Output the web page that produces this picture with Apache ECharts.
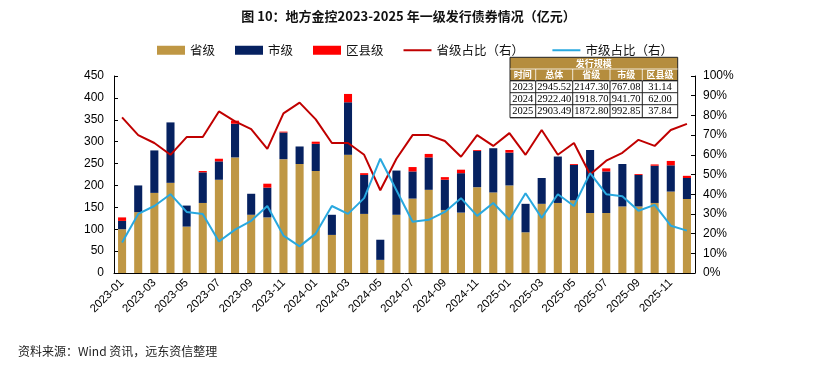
<!DOCTYPE html>
<html><head><meta charset="utf-8">
<script src="https://cdn.jsdelivr.net/npm/echarts@6/dist/echarts.min.js"></script>
<style>html,body{margin:0;padding:0;background:#fff;}#c{width:817px;height:373px;}</style>
</head><body><div id="c"></div>
<script>
var categories = ['2023-01','2023-02','2023-03','2023-04','2023-05','2023-06','2023-07','2023-08','2023-09','2023-10','2023-11','2023-12',
'2024-01','2024-02','2024-03','2024-04','2024-05','2024-06','2024-07','2024-08','2024-09','2024-10','2024-11','2024-12',
'2025-01','2025-02','2025-03','2025-04','2025-05','2025-06','2025-07','2025-08','2025-09','2025-10','2025-11','2025-12'];
var provincial = [100,139,183,206,106,160,213,264,133,127,260,249, 233,87,270,135,30,133,170,190,144,138,196,184, 200,93,158,160,166,137,137,152,152,160,186,169];
var city = [19,61,97,138,48,70,42,77,48,68,61,40, 62,46,120,89,46,101,62,74,69,90,83,101, 75,65,59,106,81,144,95,97,72,85,60,48];
var county = [8,0,0,0,0,3,6,7,0,9,2,0, 5,0,19,4,0,0,10,8,6,8,2,0, 6,0,0,0,2,0,7,0,2,3,10,5];
var provShare = [79,70,66,60,69,69,82,77,73,63,81,86.5, 78,66,66,60,42,58,70,70,67,59,70,64.5, 71,60,72.6,60,66,50,57,61,67.6,64.5,72.6,75.7];
var cityShare = [15.5,30,34,40,31,30,16,22,26.5,34,19,13.5, 20,34,30,38,58,42,26,27,31,38,29,35.5, 27,40.5,28,40,34,50.7,40,39,31.6,34.6,24,21.5];
var leftTicks = [0,450,50];
var rightTicks = [0,100,10];
var tableTitle = '发行规模';
var tableHeader = ['时间','总体','省级','市级','区县级'];
var tableRows = [
  ['2023','2945.52','2147.30','767.08','31.14'],
  ['2024','2922.40','1918.70','941.70','62.00'],
  ['2025','2903.49','1872.80','992.85','37.84']
];

var cTan = '#BF9744', cNavy = '#062160', cRed = '#FF0000', cLineRed = '#C00000', cLineBlue = '#29A8DF', cHead = '#B58D3E';

// table graphics
var colX = [510, 535.7, 572.7, 610, 642.3, 677.7];
var rowY = [57.3, 69, 80.7, 92.7, 104.7, 117.7];
var g = [];
var serif = '"Liberation Serif","DejaVu Serif","Noto Sans CJK SC",serif';
g.push({type:'rect', shape:{x:colX[0], y:rowY[0], width:colX[5]-colX[0], height:rowY[2]-rowY[0]}, style:{fill:cHead, stroke:'#222', lineWidth:1}, z:10});
g.push({type:'rect', shape:{x:colX[0], y:rowY[2], width:colX[5]-colX[0], height:rowY[5]-rowY[2]}, style:{fill:'#fff', stroke:'#222', lineWidth:1}, z:10});
g.push({type:'text', x:(colX[0]+colX[5])/2, y:(rowY[0]+rowY[1])/2, style:{text:tableTitle, fill:'#fff', font:'bold 9px "Noto Sans CJK SC"', align:'center', verticalAlign:'middle'}, z:12});
g.push({type:'line', shape:{x1:colX[0], y1:rowY[1], x2:colX[5], y2:rowY[1]}, style:{stroke:'#fff', lineWidth:0.8}, z:11});
for (var r = 2; r < 5; r++) {
  g.push({type:'line', shape:{x1:colX[0], y1:rowY[r+1], x2:colX[5], y2:rowY[r+1]}, style:{stroke:'#222', lineWidth:1}, z:11});
}
g.push({type:'line', shape:{x1:colX[0], y1:rowY[2], x2:colX[5], y2:rowY[2]}, style:{stroke:'#222', lineWidth:1}, z:11});
for (var cI = 1; cI < 5; cI++) {
  g.push({type:'line', shape:{x1:colX[cI], y1:rowY[1], x2:colX[cI], y2:rowY[2]}, style:{stroke:'#fff', lineWidth:0.8}, z:11});
  g.push({type:'line', shape:{x1:colX[cI], y1:rowY[2], x2:colX[cI], y2:rowY[5]}, style:{stroke:'#222', lineWidth:1}, z:11});
}
tableHeader.forEach(function(h, i){
  g.push({type:'text', x:(colX[i]+colX[i+1])/2, y:(rowY[1]+rowY[2])/2, style:{text:h, fill:'#fff', font:'bold 9px "Noto Sans CJK SC"', align:'center', verticalAlign:'middle'}, z:12});
});
tableRows.forEach(function(row, ri){
  row.forEach(function(v, i){
    g.push({type:'text', x:(colX[i]+colX[i+1])/2, y:(rowY[ri+2]+rowY[ri+3])/2 + 0.5, style:{text:v, fill:'#000', font:'10.5px ' + serif, align:'center', verticalAlign:'middle'}, z:12});
  });
});
g.push({type:'text', left:18, top:345, style:{text:'资料来源：Wind 资讯，远东资信整理', fill:'#222', font:'12px "Noto Sans CJK SC"'}});

var chart = echarts.init(document.getElementById('c'), null, {renderer:'canvas'});
var axisLabelFont = {color:'#000', fontSize:12, fontFamily:'"Liberation Sans", Arial, sans-serif'};
var lineIcon = 'path://M0,0H28V2H0Z';
chart.setOption({
  animation:false,
  backgroundColor:'#fff',
  title:{text:'图 10：地方金控2023-2025 年一级发行债券情况（亿元）', left:'center', top:5,
    textStyle:{fontSize:13, fontWeight:'bold', color:'#111', fontFamily:'"Noto Sans CJK SC"'}},
  legend:{top:39, left:152, itemWidth:28, itemHeight:9, itemGap:20, symbolKeepAspect:true,
    textStyle:{fontSize:12.5, color:'#111', fontFamily:'"Noto Sans CJK SC"'},
    formatter:function(n){ return n === '省级占比（右）' ? n + '   ' : n; },
    data:[{name:'省级', icon:'rect'},{name:'市级', icon:'rect'},{name:'区县级', icon:'rect'},{name:'省级占比（右）', icon:lineIcon},{name:'市级占比（右）', icon:lineIcon}]},
  grid:{left:114, right:122, top:76, bottom:100, containLabel:false},
  xAxis:{type:'category', data:categories, boundaryGap:true,
    axisLine:{lineStyle:{color:'#000', width:1}},
    axisTick:{inside:true, interval:1, length:4, lineStyle:{color:'#000'}},
    axisLabel:{interval:1, rotate:45, margin:8, fontSize:11.5, color:'#000', fontFamily:'"Liberation Sans", Arial, sans-serif'}},
  yAxis:[
    {type:'value', min:leftTicks[0], max:leftTicks[1], interval:leftTicks[2],
      axisLine:{show:true, lineStyle:{color:'#000'}}, axisTick:{show:true, inside:true, length:4, lineStyle:{color:'#000'}},
      splitLine:{show:false}, axisLabel:Object.assign({margin:10}, axisLabelFont)},
    {type:'value', min:rightTicks[0], max:rightTicks[1], interval:rightTicks[2], position:'right',
      axisLine:{show:true, lineStyle:{color:'#000'}}, axisTick:{show:true, inside:true, length:4, lineStyle:{color:'#000'}},
      splitLine:{show:false}, axisLabel:Object.assign({margin:8, formatter:'{value}%'}, axisLabelFont)}
  ],
  series:[
    {name:'省级', type:'bar', stack:'a', data:provincial, barWidth:'50%', itemStyle:{color:cTan}},
    {name:'市级', type:'bar', stack:'a', data:city, itemStyle:{color:cNavy}},
    {name:'区县级', type:'bar', stack:'a', data:county, itemStyle:{color:cRed}},
    {name:'省级占比（右）', type:'line', yAxisIndex:1, data:provShare, symbol:'none', lineStyle:{color:cLineRed, width:2}, itemStyle:{color:cLineRed}},
    {name:'市级占比（右）', type:'line', yAxisIndex:1, data:cityShare, symbol:'none', lineStyle:{color:cLineBlue, width:2}, itemStyle:{color:cLineBlue}}
  ],
  graphic:g
});
</script></body></html>
